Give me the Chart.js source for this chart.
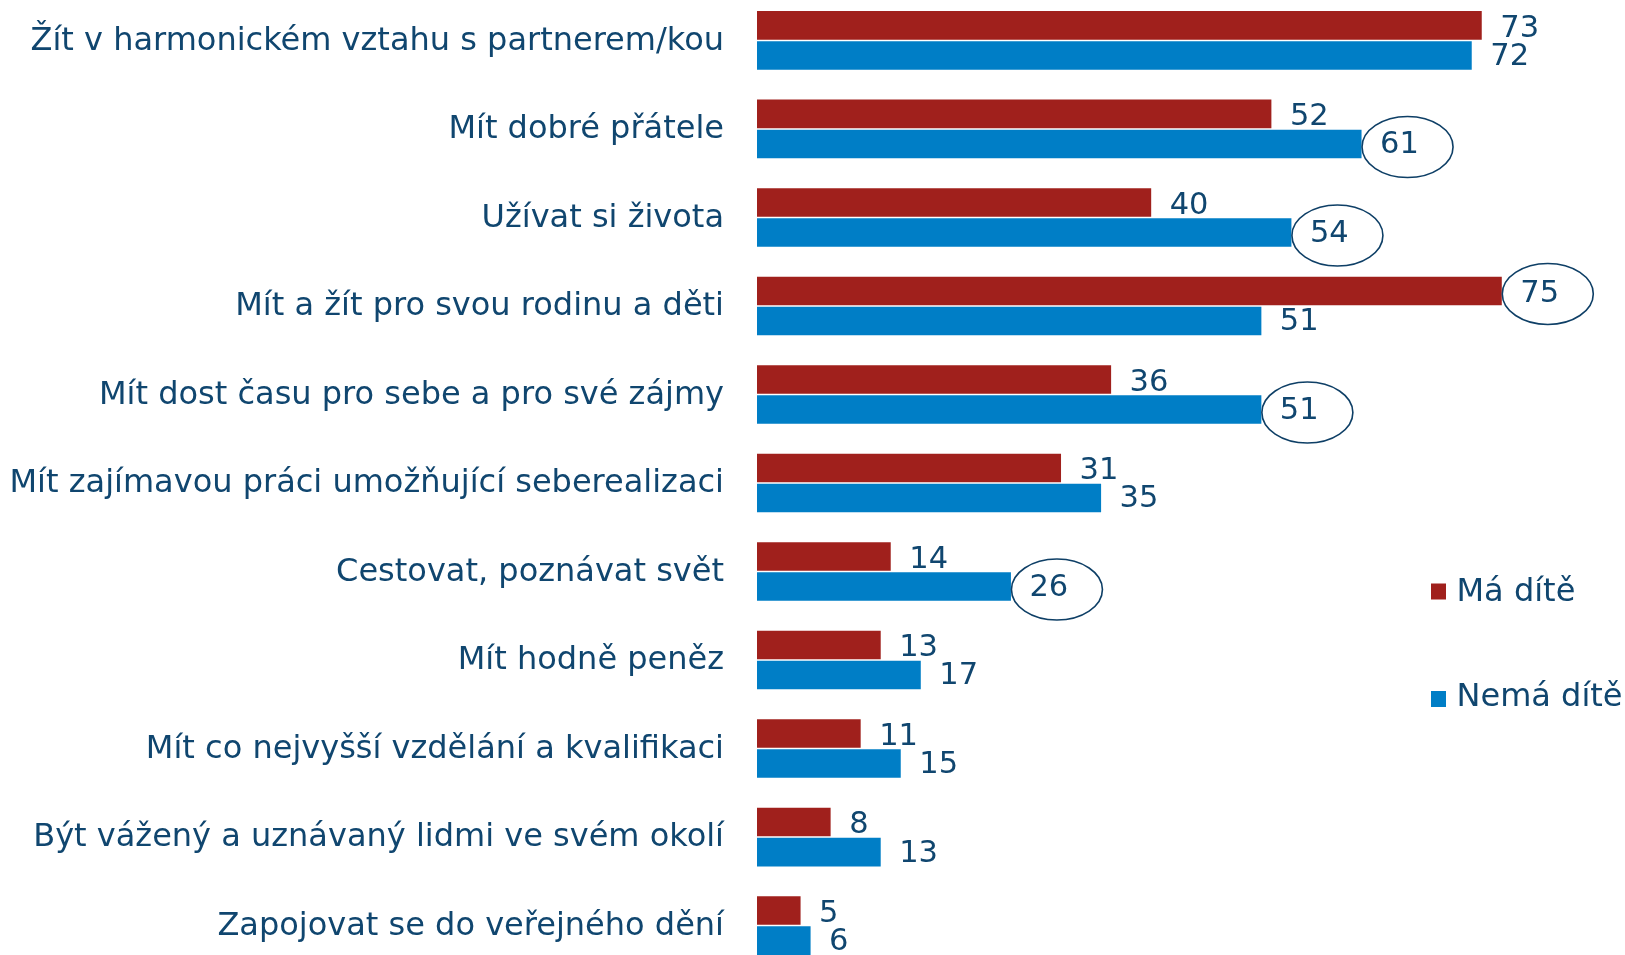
<!DOCTYPE html>
<html>
<head>
<meta charset="utf-8">
<script src="https://cdn.jsdelivr.net/npm/chart.js@4"></script>
<style>
html,body{margin:0;padding:0;background:#fff;overflow:hidden;width:1625px;height:955px;}
#wrap{position:absolute;left:0;top:-23px;width:1625px;height:1012px;}
</style>
</head>
<body>
<div id="wrap"><canvas id="c"></canvas></div>
<script>
const categories = [
  "Žít v harmonickém vztahu s partnerem/kou",
  "Mít dobré přátele",
  "Užívat si života",
  "Mít a žít pro svou rodinu a děti",
  "Mít dost času pro sebe a pro své zájmy",
  "Mít zajímavou práci umožňující seberealizaci",
  "Cestovat, poznávat svět",
  "Mít hodně peněz",
  "Mít co nejvyšší vzdělání a kvalifikaci",
  "Být vážený a uznávaný lidmi ve svém okolí",
  "Zapojovat se do veřejného dění"
];
const seriesNames = ["Má dítě", "Nemá dítě"];
const maDite   = [73, 52, 40, 75, 36, 31, 14, 13, 11, 8, 5];
const nemaDite = [72, 61, 54, 51, 51, 35, 26, 17, 15, 13, 6];
const circledMa   = [3];
const circledNema = [1, 2, 4, 6];

const RED = "#A0201C";
const BLUE = "#007EC6";
const TEXT = "#10466F";
const FONT = "DejaVu Sans";
const CANVAS_SHIFT = 23; // canvas top is 23px above the page top

const overlay = {
  id: "overlay",
  afterDatasetsDraw(chart) {
    const ctx = chart.ctx;
    ctx.save();
    ctx.textAlign = "left";
    ctx.textBaseline = "middle";
    const circled = [circledMa, circledNema];
    const labelDy = [3.5, 1.5];
    ctx.font = "30.5px '" + FONT + "'";
    chart.data.datasets.forEach((ds, di) => {
      const meta = chart.getDatasetMeta(di);
      meta.data.forEach((el, i) => {
        ctx.fillStyle = TEXT;
        ctx.fillText(String(ds.data[i]), el.x + 18.5, el.y + labelDy[di]);
        if (circled[di].includes(i)) {
          ctx.beginPath();
          ctx.strokeStyle = "#0E3F66";
          ctx.lineWidth = 1.6;
          ctx.ellipse(el.x + 46, el.y + 3, 45.5, 30.5, 0, 0, Math.PI * 2);
          ctx.stroke();
        }
      });
    });
    // legend
    ctx.font = "32px '" + FONT + "'";
    const squareTop = [583.5, 691];
    const textY = [593, 697.5];
    chart.data.datasets.forEach((ds, di) => {
      ctx.fillStyle = ds.backgroundColor;
      ctx.fillRect(1431, squareTop[di] + CANVAS_SHIFT, 15, 16);
      ctx.fillStyle = TEXT;
      ctx.fillText(ds.label, 1456.5, textY[di] + CANVAS_SHIFT);
    });
    ctx.restore();
  }
};

new Chart(document.getElementById("c"), {
  type: "bar",
  data: {
    labels: categories,
    datasets: [
      { label: seriesNames[0], data: maDite, backgroundColor: RED, clip: 0 },
      { label: seriesNames[1], data: nemaDite, backgroundColor: BLUE, clip: 0 }
    ]
  },
  options: {
    indexAxis: "y",
    responsive: true,
    maintainAspectRatio: false,
    animation: false,
    layout: { padding: 0 },
    categoryPercentage: 0.68,
    barPercentage: 0.95,
    plugins: { legend: { display: false }, tooltip: { enabled: false } },
    scales: {
      x: { display: false, min: 0.65, max: 87.3 },
      y: {
        grid: { display: false, drawTicks: true, tickLength: 33 },
        border: { display: false },
        ticks: { padding: 0, labelOffset: 1, color: TEXT, font: { family: FONT, size: 32 }, autoSkip: false },
        afterFit(axis) { axis.width = 757; }
      }
    }
  },
  plugins: [overlay]
});
</script>
</body>
</html>
